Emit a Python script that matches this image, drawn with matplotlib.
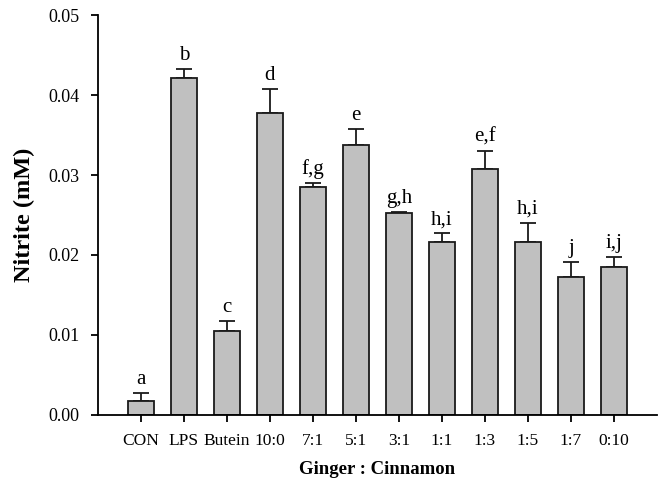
import matplotlib
matplotlib.use("Agg")
import matplotlib.pyplot as plt

categories = ["CON", "LPS", "Butein", "10:0", "7:1", "5:1", "3:1", "1:1", "1:3", "1:5", "1:7", "0:10"]
means = [0.0018, 0.0421, 0.0105, 0.0377, 0.0285, 0.0338, 0.0252, 0.0216, 0.0308, 0.0216, 0.0172, 0.0185]
errors = [0.0009, 0.0012, 0.0013, 0.0031, 0.0005, 0.0020, 0.0002, 0.0011, 0.0022, 0.0024, 0.0019, 0.0013]
letters = ["a", "b", "c", "d", "f,g", "e", "g,h", "h,i", "e,f", "h,i", "j", "i,j"]

plt.rcParams['font.family'] = ['Liberation Serif', 'DejaVu Serif']

fig = plt.figure(figsize=(6.61, 4.87), dpi=100)
ax = fig.add_axes([0.148, 0.148, 0.846, 0.821])

x = range(len(categories))
ax.bar(x, means, width=0.6, color="#c0c0c0", edgecolor="#1a1a1a", linewidth=1.3, zorder=2)
# only the upper half of the error bar, as in the original
ax.errorbar(x, means, yerr=[[0] * len(errors), errors], fmt="none",
            ecolor="#1a1a1a", elinewidth=1.3, capsize=6, capthick=1.3, zorder=1)

for xi, m, e, lab in zip(x, means, errors, letters):
    ax.text(xi, m + e + 0.0005, lab, ha="center", va="bottom", fontsize=15)

ax.set_xlim(-1, 12)
ax.set_ylim(0, 0.05)
ax.set_xticks(list(x))
ax.set_xticklabels(categories)
ax.set_yticks([0.0, 0.01, 0.02, 0.03, 0.04, 0.05])
ax.set_yticklabels(["0.00", "0.01", "0.02", "0.03", "0.04", "0.05"])
ax.tick_params(labelsize=13, length=5, width=1.3, direction="out", pad=8)
ax.tick_params(axis="x", labelsize=12.5)

for side in ["top", "right"]:
    ax.spines[side].set_visible(False)
for side in ["left", "bottom"]:
    ax.spines[side].set_linewidth(1.3)

ax.set_ylabel("Nitrite (mM)", fontsize=17.5, fontweight="bold", labelpad=10)
ax.set_xlabel("Ginger : Cinnamon", fontsize=13.5, fontweight="bold", labelpad=9)

fig.savefig("out.png", dpi=100)
